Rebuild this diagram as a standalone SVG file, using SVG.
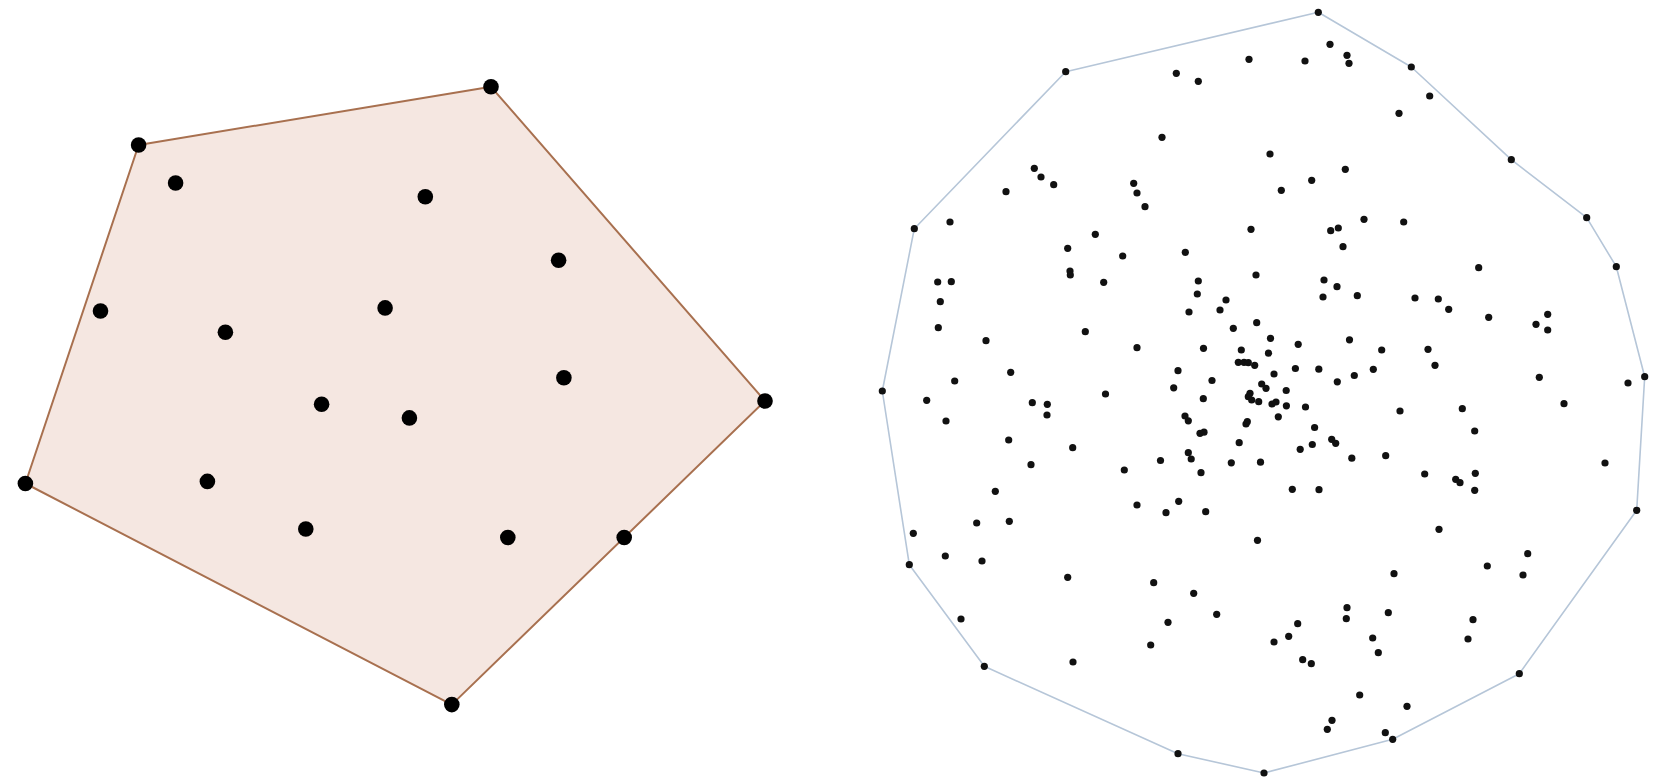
<svg xmlns="http://www.w3.org/2000/svg" width="1659" height="781" viewBox="0 0 1659 781">
<style>
.hullL{fill:#f5e7e1;stroke:#a8704f;stroke-width:2;stroke-linejoin:round}
.hullR{fill:none;stroke:#b6c6d8;stroke-width:1.6;stroke-linejoin:round}
.pL{fill:#000}
.pR{fill:#111}
.pR circle{r:3.6px}
.pL circle{r:7.8px}
</style>
<rect width="1659" height="781" fill="#fff"/>
<g id="left-hull">
<polygon class="hullL" points="138.6,145 491,86.8 765,401 451.8,704.6 25.4,483.5"/>
<g id="left-points" class="pL">
<circle cx="138.6" cy="145" r="7.5"/><circle cx="491" cy="86.8" r="7.5"/><circle cx="765" cy="401" r="7.5"/><circle cx="451.8" cy="704.6" r="7.5"/><circle cx="25.4" cy="483.5" r="7.5"/>
<circle cx="175.6" cy="183" r="7.5"/><circle cx="425.3" cy="196.8" r="7.5"/><circle cx="558.6" cy="260.3" r="7.5"/><circle cx="100.5" cy="311" r="7.5"/><circle cx="225.4" cy="332.2" r="7.5"/><circle cx="385.1" cy="307.9" r="7.5"/><circle cx="563.9" cy="377.7" r="7.5"/><circle cx="321.6" cy="404.2" r="7.5"/><circle cx="409.4" cy="417.9" r="7.5"/><circle cx="207.4" cy="481.4" r="7.5"/><circle cx="305.8" cy="529" r="7.5"/><circle cx="507.8" cy="537.5" r="7.5"/><circle cx="624.2" cy="537.5" r="7.5"/>
</g>
</g>
<g id="right-hull">
<polygon class="hullR" points="1318.3,12.3 1411.3,67 1511.3,159.7 1586.7,217.7 1616.3,266.7 1644.7,376.7 1636.7,510.3 1519.3,673.7 1392.7,739.3 1264,773 1178,753.7 984.3,666.3 909.3,564.7 882.3,391 914.3,228.7 1065.7,71.7"/>
<g id="right-points" class="pR">
<circle cx="1318.3" cy="12.3" r="3.2"/><circle cx="1411.3" cy="67" r="3.2"/><circle cx="1511.3" cy="159.7" r="3.2"/><circle cx="1586.7" cy="217.7" r="3.2"/><circle cx="1616.3" cy="266.7" r="3.2"/><circle cx="1644.7" cy="376.7" r="3.2"/><circle cx="1636.7" cy="510.3" r="3.2"/><circle cx="1519.3" cy="673.7" r="3.2"/><circle cx="1392.7" cy="739.3" r="3.2"/><circle cx="1264" cy="773" r="3.2"/><circle cx="1178" cy="753.7" r="3.2"/><circle cx="984.3" cy="666.3" r="3.2"/><circle cx="909.3" cy="564.7" r="3.2"/><circle cx="882.3" cy="391" r="3.2"/><circle cx="914.3" cy="228.7" r="3.2"/><circle cx="1065.7" cy="71.7" r="3.2"/>
<circle cx="1249" cy="59.3" r="3.2"/><circle cx="1176.3" cy="73.3" r="3.2"/><circle cx="1198.3" cy="81.3" r="3.2"/><circle cx="1162" cy="137.3" r="3.2"/><circle cx="1270" cy="154" r="3.2"/><circle cx="1034.3" cy="168.3" r="3.2"/><circle cx="1041" cy="177" r="3.2"/><circle cx="1053.7" cy="184.7" r="3.2"/><circle cx="1006" cy="191.7" r="3.2"/><circle cx="1133.7" cy="183.3" r="3.2"/><circle cx="1137" cy="193" r="3.2"/><circle cx="1145" cy="206.7" r="3.2"/><circle cx="950" cy="222" r="3.2"/><circle cx="1251" cy="229.3" r="3.2"/><circle cx="1095.3" cy="234.3" r="3.2"/><circle cx="1067.7" cy="248.3" r="3.2"/><circle cx="1122.7" cy="256" r="3.2"/><circle cx="1185.3" cy="252.3" r="3.2"/><circle cx="1070" cy="271" r="3.2"/><circle cx="1070.3" cy="275" r="3.2"/><circle cx="1103.7" cy="282.3" r="3.2"/><circle cx="937.7" cy="282" r="3.2"/><circle cx="951.3" cy="281.7" r="3.2"/><circle cx="940.3" cy="301.7" r="3.2"/><circle cx="938.3" cy="327.7" r="3.2"/><circle cx="1256" cy="275" r="3.2"/><circle cx="1198.3" cy="281" r="3.2"/><circle cx="1197.3" cy="294" r="3.2"/><circle cx="1226" cy="300" r="3.2"/><circle cx="1220" cy="310" r="3.2"/><circle cx="1189" cy="312" r="3.2"/><circle cx="1256.7" cy="322.7" r="3.2"/><circle cx="1233.3" cy="328.3" r="3.2"/><circle cx="1085.3" cy="331.7" r="3.2"/><circle cx="986" cy="340.7" r="3.2"/><circle cx="1137" cy="347.7" r="3.2"/><circle cx="1203.5" cy="348.3" r="3.2"/><circle cx="1241.3" cy="350" r="3.2"/><circle cx="1270.5" cy="338.3" r="3.2"/><circle cx="1268.5" cy="353.2" r="3.2"/><circle cx="1238.3" cy="362.3" r="3.2"/><circle cx="1244" cy="362.3" r="3.2"/><circle cx="1248.3" cy="362.7" r="3.2"/><circle cx="1254.7" cy="365.3" r="3.2"/><circle cx="1178" cy="370.7" r="3.2"/><circle cx="1010.7" cy="372.3" r="3.2"/><circle cx="954.7" cy="381" r="3.2"/><circle cx="1212" cy="380.5" r="3.2"/><circle cx="1173.7" cy="387.8" r="3.2"/><circle cx="1105.5" cy="394" r="3.2"/>
<circle cx="1330" cy="44.3" r="3.2"/><circle cx="1347" cy="55.3" r="3.2"/><circle cx="1349" cy="63.3" r="3.2"/><circle cx="1305" cy="61" r="3.2"/><circle cx="1429.7" cy="96" r="3.2"/><circle cx="1399" cy="113.3" r="3.2"/><circle cx="1345.3" cy="169.3" r="3.2"/><circle cx="1311.7" cy="180.3" r="3.2"/><circle cx="1281.3" cy="190.3" r="3.2"/><circle cx="1364" cy="219.3" r="3.2"/><circle cx="1403.7" cy="222" r="3.2"/><circle cx="1330.7" cy="230.7" r="3.2"/><circle cx="1338.3" cy="228" r="3.2"/><circle cx="1343" cy="246.7" r="3.2"/><circle cx="1478.7" cy="267.7" r="3.2"/><circle cx="1324" cy="280" r="3.2"/><circle cx="1337" cy="286.7" r="3.2"/><circle cx="1323" cy="297" r="3.2"/><circle cx="1357.3" cy="295.7" r="3.2"/><circle cx="1415" cy="298" r="3.2"/><circle cx="1438.3" cy="299" r="3.2"/><circle cx="1448.7" cy="309.3" r="3.2"/><circle cx="1488.7" cy="317.3" r="3.2"/><circle cx="1547.7" cy="314.3" r="3.2"/><circle cx="1536" cy="324.3" r="3.2"/><circle cx="1547.7" cy="330" r="3.2"/><circle cx="1298.2" cy="344.3" r="3.2"/><circle cx="1349.5" cy="339.8" r="3.2"/><circle cx="1381.7" cy="350" r="3.2"/><circle cx="1428" cy="349.3" r="3.2"/><circle cx="1435" cy="365.3" r="3.2"/><circle cx="1295.4" cy="368.5" r="3.2"/><circle cx="1318.8" cy="369.2" r="3.2"/><circle cx="1373.3" cy="369.3" r="3.2"/><circle cx="1274" cy="374" r="3.2"/><circle cx="1354.3" cy="375.5" r="3.2"/><circle cx="1337.3" cy="381.8" r="3.2"/><circle cx="1539.3" cy="377.3" r="3.2"/><circle cx="1628" cy="383" r="3.2"/><circle cx="1261.7" cy="384" r="3.2"/><circle cx="1266" cy="388.3" r="3.2"/><circle cx="1286.2" cy="390.5" r="3.2"/>
<circle cx="1250" cy="393.3" r="3.2"/><circle cx="1248.3" cy="396.7" r="3.2"/><circle cx="1251.7" cy="400" r="3.2"/><circle cx="1258.7" cy="401.7" r="3.2"/><circle cx="1272" cy="404" r="3.2"/><circle cx="1276" cy="402" r="3.2"/><circle cx="1286.4" cy="405.8" r="3.2"/><circle cx="1305.5" cy="407" r="3.2"/><circle cx="1278.3" cy="416.8" r="3.2"/><circle cx="1314.6" cy="427.5" r="3.2"/><circle cx="1246" cy="424" r="3.2"/><circle cx="1247.3" cy="421.7" r="3.2"/><circle cx="1185" cy="416" r="3.2"/><circle cx="1188.3" cy="420.8" r="3.2"/><circle cx="1200" cy="433.3" r="3.2"/><circle cx="1204" cy="432.2" r="3.2"/><circle cx="1239.2" cy="442.7" r="3.2"/><circle cx="1312.3" cy="444.5" r="3.2"/><circle cx="1300.2" cy="449.3" r="3.2"/><circle cx="1331.7" cy="439.3" r="3.2"/><circle cx="1335.7" cy="443.3" r="3.2"/><circle cx="1188.3" cy="452.7" r="3.2"/><circle cx="1191.2" cy="459" r="3.2"/><circle cx="1160.5" cy="460.5" r="3.2"/><circle cx="1231.3" cy="462.8" r="3.2"/><circle cx="1260.5" cy="462.2" r="3.2"/><circle cx="1201" cy="472.7" r="3.2"/><circle cx="1351.8" cy="458.2" r="3.2"/><circle cx="1203.3" cy="398.7" r="3.2"/>
<circle cx="926.7" cy="400.3" r="3.2"/><circle cx="946" cy="421" r="3.2"/><circle cx="1032.3" cy="402.7" r="3.2"/><circle cx="1047.3" cy="404.3" r="3.2"/><circle cx="1047" cy="415" r="3.2"/><circle cx="1008.7" cy="440" r="3.2"/><circle cx="1072.7" cy="447.7" r="3.2"/><circle cx="1031" cy="464.7" r="3.2"/><circle cx="1124.3" cy="470" r="3.2"/><circle cx="995.3" cy="491.3" r="3.2"/><circle cx="1137" cy="505" r="3.2"/><circle cx="1178.7" cy="501.3" r="3.2"/><circle cx="1166" cy="512.7" r="3.2"/><circle cx="1205.7" cy="511.7" r="3.2"/><circle cx="976.7" cy="523" r="3.2"/><circle cx="1009.3" cy="521.3" r="3.2"/><circle cx="913.3" cy="533.3" r="3.2"/><circle cx="1257.5" cy="540.3" r="3.2"/><circle cx="945.3" cy="556" r="3.2"/><circle cx="982" cy="561" r="3.2"/><circle cx="1067.7" cy="577.3" r="3.2"/><circle cx="1153.7" cy="582.7" r="3.2"/><circle cx="1193.7" cy="593.3" r="3.2"/><circle cx="1216.7" cy="614.3" r="3.2"/><circle cx="961" cy="619" r="3.2"/><circle cx="1168" cy="622.3" r="3.2"/><circle cx="1150.7" cy="645" r="3.2"/><circle cx="1073" cy="662" r="3.2"/>
<circle cx="1400" cy="411" r="3.2"/><circle cx="1462.3" cy="408.7" r="3.2"/><circle cx="1564" cy="403.7" r="3.2"/><circle cx="1474.7" cy="431" r="3.2"/><circle cx="1385.7" cy="455.7" r="3.2"/><circle cx="1424.7" cy="474" r="3.2"/><circle cx="1455.7" cy="479.3" r="3.2"/><circle cx="1460" cy="482.7" r="3.2"/><circle cx="1475.3" cy="473.3" r="3.2"/><circle cx="1474.7" cy="490.3" r="3.2"/><circle cx="1605" cy="463" r="3.2"/><circle cx="1292.3" cy="489.3" r="3.2"/><circle cx="1319" cy="489.7" r="3.2"/><circle cx="1439" cy="529.3" r="3.2"/><circle cx="1527.7" cy="553.7" r="3.2"/><circle cx="1487.3" cy="566" r="3.2"/><circle cx="1523" cy="575" r="3.2"/><circle cx="1394" cy="573.7" r="3.2"/><circle cx="1347" cy="607.7" r="3.2"/><circle cx="1346.3" cy="618.7" r="3.2"/><circle cx="1388.3" cy="612.7" r="3.2"/><circle cx="1297.7" cy="623.7" r="3.2"/><circle cx="1288.7" cy="636.3" r="3.2"/><circle cx="1274" cy="642" r="3.2"/><circle cx="1473" cy="619.7" r="3.2"/><circle cx="1468" cy="639" r="3.2"/><circle cx="1372.7" cy="638" r="3.2"/><circle cx="1378.3" cy="652.7" r="3.2"/><circle cx="1302.7" cy="659.7" r="3.2"/><circle cx="1311.3" cy="663.7" r="3.2"/><circle cx="1359.7" cy="695" r="3.2"/><circle cx="1407" cy="706.3" r="3.2"/><circle cx="1332" cy="720.3" r="3.2"/><circle cx="1327.3" cy="729.3" r="3.2"/><circle cx="1385.3" cy="732.7" r="3.2"/>
</g>
</g>
</svg>
